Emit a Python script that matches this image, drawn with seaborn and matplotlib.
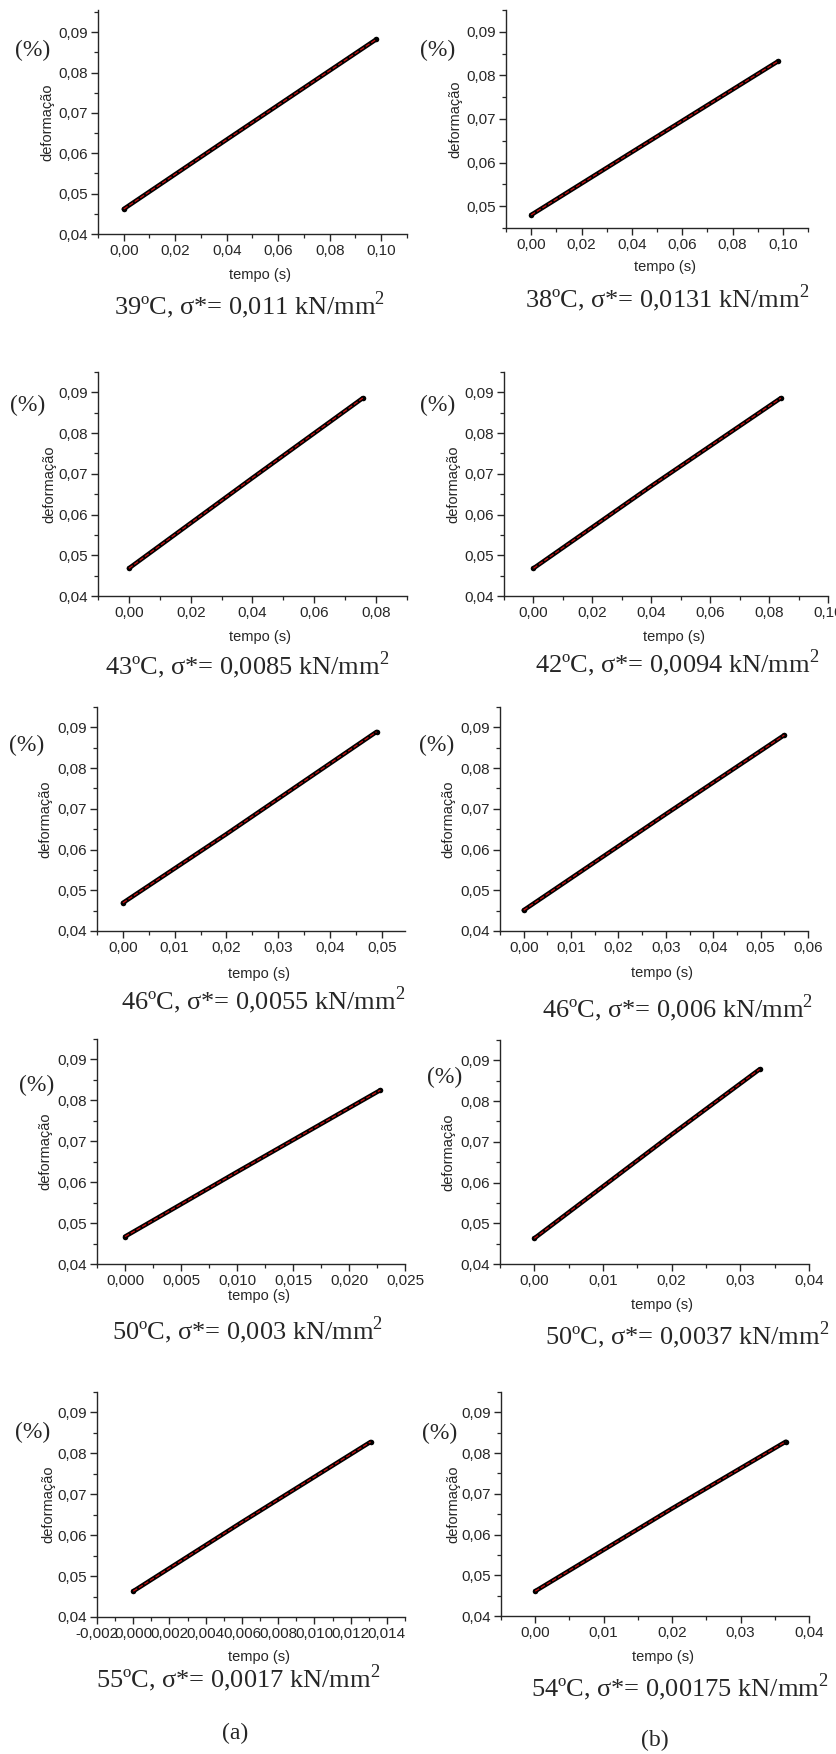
import matplotlib
matplotlib.use("Agg")
import matplotlib.pyplot as plt
import seaborn as sns
import pandas as pd
from matplotlib.ticker import AutoMinorLocator, FuncFormatter

sns.set_style("ticks")
plt.rcParams['font.family'] = ['Liberation Sans', 'DejaVu Sans']
plt.rcParams['mathtext.fontset'] = 'custom'
plt.rcParams['mathtext.rm'] = 'Liberation Serif'

# data: tempo (s) vs deformação for each test
tempo_39 = [0.0, 0.04, 0.098]
deform_39 = [0.0462, 0.0634, 0.0882]
tempo_38 = [0.0, 0.04, 0.098]
deform_38 = [0.0480, 0.0624, 0.0832]
tempo_43 = [0.0, 0.04, 0.0757]
deform_43 = [0.0468, 0.0690, 0.0886]
tempo_42 = [0.0, 0.04, 0.084]
deform_42 = [0.0468, 0.0670, 0.0886]
tempo_46a = [0.0, 0.02, 0.049]
deform_46a = [0.0469, 0.0638, 0.0889]
tempo_46b = [0.0, 0.03, 0.055]
deform_46b = [0.0451, 0.0687, 0.0881]
tempo_50a = [0.0, 0.010, 0.0228]
deform_50a = [0.0467, 0.0625, 0.0825]
tempo_50b = [0.0, 0.02, 0.0328]
deform_50b = [0.0463, 0.0718, 0.0878]
tempo_55 = [0.0, 0.006, 0.0131]
deform_55 = [0.0463, 0.0632, 0.0828]
tempo_54 = [0.0, 0.02, 0.0366]
deform_54 = [0.0461, 0.0664, 0.0828]

captions = ["39ºC, σ*= 0,011 kN/mm$^2$", "38ºC, σ*= 0,0131 kN/mm$^2$",
            "43ºC, σ*= 0,0085 kN/mm$^2$", "42ºC, σ*= 0,0094 kN/mm$^2$",
            "46ºC, σ*= 0,0055 kN/mm$^2$", "46ºC, σ*= 0,006 kN/mm$^2$",
            "50ºC, σ*= 0,003 kN/mm$^2$", "50ºC, σ*= 0,0037 kN/mm$^2$",
            "55ºC, σ*= 0,0017 kN/mm$^2$", "54ºC, σ*= 0,00175 kN/mm$^2$"]

xticks_list = [
    [0.0, 0.02, 0.04, 0.06, 0.08, 0.10],
    [0.0, 0.02, 0.04, 0.06, 0.08, 0.10],
    [0.0, 0.02, 0.04, 0.06, 0.08],
    [0.0, 0.02, 0.04, 0.06, 0.08, 0.10],
    [0.0, 0.01, 0.02, 0.03, 0.04, 0.05],
    [0.0, 0.01, 0.02, 0.03, 0.04, 0.05, 0.06],
    [0.0, 0.005, 0.010, 0.015, 0.020, 0.025],
    [0.0, 0.01, 0.02, 0.03, 0.04],
    [-0.002, 0.0, 0.002, 0.004, 0.006, 0.008, 0.010, 0.012, 0.014],
    [0.0, 0.01, 0.02, 0.03, 0.04],
]
xdec = [2, 2, 2, 2, 2, 2, 3, 2, 3, 2]
xlims = [(-0.01, 0.11), (-0.01, 0.11), (-0.01, 0.09), (-0.01, 0.10),
         (-0.005, 0.0545), (-0.005, 0.06), (-0.0025, 0.025), (-0.005, 0.04),
         (-0.002, 0.015), (-0.005, 0.04)]
ylims = [(0.04, 0.0955), (0.045, 0.095), (0.04, 0.095), (0.04, 0.095),
         (0.04, 0.095), (0.04, 0.095), (0.04, 0.095), (0.04, 0.095),
         (0.04, 0.095), (0.04, 0.095)]

series = [(tempo_39, deform_39), (tempo_38, deform_38), (tempo_43, deform_43),
          (tempo_42, deform_42), (tempo_46a, deform_46a), (tempo_46b, deform_46b),
          (tempo_50a, deform_50a), (tempo_50b, deform_50b), (tempo_55, deform_55),
          (tempo_54, deform_54)]

# layout in pixels: axes box (L, R, T, B), ylabel x, xlabel y, caption (x, y), (%) (x, y)
boxes = [(98, 407, 10, 234), (506, 808, 10, 228),
         (98, 407, 372, 596), (504, 828, 372, 596),
         (97, 405, 707, 931), (500, 808, 707, 931),
         (97, 405, 1039, 1264), (500, 809, 1040, 1264),
         (97, 405, 1392, 1617), (501, 809, 1392, 1616)]
ylab_x = [47, 455, 49, 453, 45, 448, 45, 448, 48, 453]
xlab_y = [275, 267, 637, 637, 974, 973, 1296, 1305, 1657, 1657]
cap_pos = [(250, 305), (667, 298), (247, 665), (677, 663), (263, 1000),
           (678, 1008), (248, 1330), (687, 1335), (238, 1678), (680, 1687)]
pct_pos = [(33, 50), (438, 50), (28, 405), (438, 405), (27, 745),
           (437, 745), (37, 1085), (445, 1077), (33, 1432), (440, 1433)]

W, H = 837, 1754
fig = plt.figure(figsize=(W / 100, H / 100), dpi=100)


def fx(x):
    return x / W


def fy(y):
    return 1 - y / H


for i in range(10):
    L, R, T, B = boxes[i]
    ax = fig.add_axes([fx(L), fy(B), (R - L) / W, (B - T) / H])
    t, d = series[i]
    df = pd.DataFrame({'tempo': t, 'deform': d})
    sns.lineplot(data=df, x='tempo', y='deform', ax=ax, color='black', linewidth=3.2,
                 marker='o', markersize=4, markeredgewidth=0, markevery=[0, len(t) - 1])
    sns.lineplot(data=df, x='tempo', y='deform', ax=ax, color='#cc1111', linewidth=0.9,
                 linestyle='--', dashes=(3, 1.5))

    ax.set_xlim(*xlims[i])
    ax.set_ylim(*ylims[i])
    ax.set_xticks(xticks_list[i])
    ax.set_yticks([0.04, 0.05, 0.06, 0.07, 0.08, 0.09] if i != 1 else [0.05, 0.06, 0.07, 0.08, 0.09])
    dec = xdec[i]
    ax.xaxis.set_major_formatter(FuncFormatter(lambda v, p, dec=dec: f"{v:.{dec}f}".replace('.', ',')))
    ax.yaxis.set_major_formatter(FuncFormatter(lambda v, p: f"{v:.2f}".replace('.', ',')))
    ax.xaxis.set_minor_locator(AutoMinorLocator(2))
    ax.yaxis.set_minor_locator(AutoMinorLocator(2))
    ax.tick_params(which='major', direction='out', length=5, width=1, labelsize=11, pad=2)
    ax.tick_params(which='minor', direction='out', length=3, width=0.9)
    sns.despine(ax=ax)
    for s in ['left', 'bottom']:
        ax.spines[s].set_linewidth(1.0)
    ax.set_xlabel('')
    ax.set_ylabel('')

    # axis titles, captions and unit marks
    fig.text(fx(ylab_x[i]), fy((T + B) / 2), 'deformação', rotation=90, ha='center', va='center', fontsize=10.5)
    fig.text(fx((L + R) / 2 + 8), fy(xlab_y[i]), 'tempo (s)', ha='center', va='center', fontsize=10.5)
    fig.text(fx(cap_pos[i][0]), fy(cap_pos[i][1]), captions[i], ha='center', va='center',
             fontsize=19, family='Liberation Serif')
    fig.text(fx(pct_pos[i][0]), fy(pct_pos[i][1]), '(%)', ha='center', va='center',
             fontsize=17, family='Liberation Serif')

fig.text(fx(235), fy(1733), '(a)', ha='center', va='center', fontsize=17, family='Liberation Serif')
fig.text(fx(655), fy(1740), '(b)', ha='center', va='center', fontsize=17, family='Liberation Serif')

fig.savefig('out.png', dpi=100, facecolor='white')
